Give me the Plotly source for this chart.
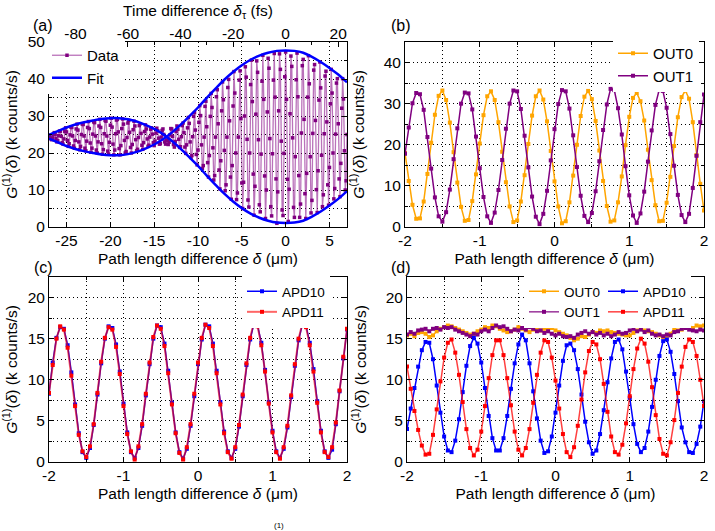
import plotly.graph_objects as go

W, H = 715, 531
FONT = "Liberation Sans, Arial, Helvetica, sans-serif"

# ---------------- Panel (a) data ----------------
a_delta_start = -27.0   # µm
a_delta_step = 0.1      # µm sampling step
a_data = [
    24.8, 24.4, 23.9, 23.6, 24.1, 25.0, 25.5, 25.0, 23.9, 23.0, 23.3, 24.7, 25.9,
    25.9, 24.5, 22.8, 22.4, 23.8, 25.8, 26.8, 25.7, 23.4, 21.8, 22.5, 24.9, 27.0,
    26.9, 24.6, 21.9, 21.3, 23.4, 26.5, 27.8, 26.2, 23.0, 20.9, 21.8, 25.0, 27.8,
    27.7, 24.6, 21.3, 20.6, 23.2, 26.9, 28.5, 26.6, 22.7, 20.2, 21.3, 25.1, 28.4,
    28.2, 24.6, 20.8, 20.0, 23.0, 27.3, 29.1, 26.9, 22.5, 19.7, 20.9, 25.2, 28.8,
    28.6, 24.6, 20.5, 19.7, 22.9, 27.5, 29.4, 27.0, 22.4, 19.5, 20.8, 25.2, 28.9,
    29.1, 25.7, 21.2, 19.5, 22.0, 26.6, 29.2, 27.8, 23.4, 20.0, 20.4, 24.2, 28.1,
    28.8, 25.6, 21.5, 20.0, 22.3, 26.3, 28.6, 27.3, 23.6, 20.6, 21.0, 24.2, 27.4,
    27.9, 25.3, 22.1, 21.0, 22.8, 25.8, 27.6, 26.5, 23.8, 21.8, 22.1, 24.3, 26.4,
    26.8, 25.1, 22.8, 22.0, 23.2, 25.4, 26.7, 26.0, 24.0, 22.4, 22.5, 24.3, 26.1,
    26.5, 25.0, 23.0, 22.4, 23.5, 23.5, 22.3, 22.9, 24.9, 26.6, 26.5, 24.5, 22.3,
    21.6, 23.1, 25.8, 27.3, 26.4, 23.7, 21.5, 21.7, 24.4, 27.4, 28.1, 25.5, 21.6,
    19.9, 22.2, 26.8, 29.6, 28.0, 23.0, 18.8, 19.3, 24.4, 29.9, 30.9, 26.2, 19.6,
    16.8, 20.8, 28.3, 32.8, 30.1, 22.2, 15.8, 16.6, 24.3, 32.6, 34.0, 27.1, 17.4,
    13.5, 19.3, 29.9, 36.1, 32.3, 21.4, 12.7, 13.9, 24.3, 35.2, 37.1, 27.9, 15.4,
    10.3, 17.9, 31.4, 39.2, 34.4, 20.7, 9.8, 11.4, 24.3, 37.7, 39.9, 28.7, 13.5,
    7.5, 16.6, 32.7, 42.0, 36.2, 20.0, 7.4, 9.2, 24.3, 39.7, 42.2, 29.3, 11.9,
    5.0, 12.1, 30.0, 43.3, 40.5, 23.7, 7.3, 5.4, 20.0, 38.5, 45.1, 33.9, 14.3,
    3.2, 11.0, 30.5, 44.9, 41.8, 23.6, 6.0, 4.1, 19.7, 39.4, 46.4, 34.5, 13.8,
    2.3, 10.0, 31.1, 45.6, 42.9, 23.9, 5.5, 3.0, 19.8, 39.7, 46.9, 35.1, 13.0,
    1.0, 9.5, 31.4, 46.8, 42.6, 23.2, 4.6, 3.1, 19.9, 40.6, 47.3, 34.5, 12.9,
    1.5, 10.2, 30.6, 46.2, 43.4, 24.1, 5.3, 2.6, 19.0, 39.8, 47.0, 35.2, 13.9,
    2.6, 6.2, 25.4, 43.6, 45.3, 29.1, 9.0, 2.3, 14.5, 35.1, 46.3, 38.7, 19.0,
    3.8, 7.2, 25.3, 42.4, 43.9, 28.8, 10.1, 3.9, 15.2, 34.3, 44.6, 37.6, 19.4,
    5.5, 8.7, 25.2, 40.8, 42.1, 28.4, 11.4, 5.9, 16.1, 33.3, 42.6, 36.2, 20.0,
    7.6, 10.4, 25.1, 38.9, 40.1, 27.9, 13.0, 8.2, 17.2, 32.1, 40.1, 34.6, 20.6,
    10.0, 12.5, 25.0,
]
a_delta = [round(a_delta_start + a_delta_step * i, 2) for i in range(len(a_data))]

a_fit_delta = [-27, -26, -25, -24, -23, -22, -21, -20, -19, -18, -17, -16, -15, -14,
               -13, -12, -11, -10, -9, -8, -7, -6, -5, -4, -3, -2, -1, 0, 1, 2, 3, 4, 5, 6, 7]
a_fit_branch1 = [24.9, 25.9, 26.9, 27.7, 28.3, 28.8, 29.2, 29.4, 29.4, 29.1, 28.5, 27.6, 26.5, 25.1,
                 23.3, 21.2, 18.9, 16.5, 13.9, 11.4, 9.0, 6.9, 5.1, 3.6, 2.5, 1.7, 1.2, 1.1, 1.2,
                 1.7, 2.8, 4.2, 5.8, 7.6, 9.7]
a_fit_branch2 = [23.9, 22.9, 21.9, 21.1, 20.5, 20.0, 19.6, 19.4, 19.4, 19.7, 20.3, 21.2, 22.3, 23.7,
                 25.5, 27.6, 29.9, 32.3, 34.9, 37.4, 39.8, 41.9, 43.7, 45.2, 46.3, 47.1, 47.6, 47.7,
                 47.6, 47.1, 46.0, 44.6, 43.0, 41.2, 39.1]

a_xticks = [-25, -20, -15, -10, -5, 0, 5]
a_xticklabels = ["-25", "-20", "-15", "-10", "-5", "0", "5"]
a_yticks = [0, 10, 20, 30, 40, 50]
a_yticklabels = ["0", "10", "20", "30", "40", "50"]
a_time_ticks = [-80, -60, -40, -20, 0, 20]
a_time_ticklabels = ["-80", "-60", "-40", "-20", "0", "20"]
c_light_um_per_fs = 0.29979

# ---------------- Panels (b)-(d) data ----------------
bcd_delta = [round(-2 + 0.05 * i, 2) for i in range(81)]

b_out0 = [18.0, 11.2, 5.4, 2.0, 2.1, 6.2, 12.9, 20.5, 27.3, 31.9,
          33.2, 30.9, 25.4, 18.2, 10.8, 4.9, 1.5, 1.7, 6.3, 12.8,
          20.3, 27.2, 31.8, 33.0, 30.9, 25.5, 18.3, 10.9, 5.0, 1.2,
          1.6, 6.2, 12.6, 20.2, 27.1, 31.8, 33.2, 31.0, 25.7, 18.5,
          11.1, 5.0, 0.9, 1.4, 6.0, 12.5, 20.0, 27.0, 31.7, 33.1,
          31.1, 25.8, 18.6, 11.2, 5.1, 1.3, 1.6, 6.0, 12.3, 19.9,
          26.8, 31.4, 32.6, 30.6, 25.9, 18.8, 11.4, 5.3, 1.4, 1.5,
          5.9, 12.2, 19.7, 26.7, 31.6, 33.2, 31.2, 25.5, 17.5, 10.5,
          4.0]
b_out1 = [17.8, 24.2, 30.1, 32.6, 32.3, 28.5, 21.9, 14.2, 7.2, 2.6,
          1.3, 3.6, 9.1, 16.5, 24.0, 30.0, 32.7, 32.5, 28.6, 22.0,
          14.3, 7.3, 2.6, 1.0, 3.5, 9.0, 16.3, 23.9, 30.0, 33.2,
          33.0, 28.7, 22.2, 14.5, 7.4, 2.5, 0.7, 3.2, 8.8, 16.2,
          23.8, 29.9, 33.3, 33.0, 28.8, 22.3, 14.6, 7.6, 2.7, 1.2,
          3.4, 8.7, 16.0, 23.6, 29.8, 33.6, 33.3, 28.9, 22.5, 14.8,
          7.7, 2.8, 1.0, 3.3, 8.6, 15.9, 23.5, 29.7, 33.3, 33.1,
          29.0, 22.6, 14.9, 7.8, 2.9, 1.2, 3.2, 9.5, 17.3, 25.5,
          32.2]

c_apd10 = [8.3, 12.1, 15.1, 16.4, 16.2, 14.2, 10.9, 7.0, 3.5, 1.2,
           0.5, 1.7, 4.5, 8.2, 12.0, 15.0, 16.5, 16.3, 14.3, 11.0,
           7.1, 3.6, 1.2, 0.5, 1.7, 4.4, 8.1, 11.9, 15.0, 16.6,
           16.4, 14.4, 11.1, 7.2, 3.6, 1.2, 0.4, 1.6, 4.4, 8.0,
           11.9, 14.9, 16.7, 16.5, 14.4, 11.1, 7.3, 3.7, 1.3, 0.5,
           1.6, 4.3, 8.0, 11.8, 14.9, 16.8, 16.6, 14.5, 11.2, 7.3,
           3.8, 1.3, 0.5, 1.6, 4.2, 7.9, 11.7, 14.8, 16.7, 16.6,
           14.5, 11.3, 7.4, 3.8, 1.3, 0.5, 1.5, 4.6, 8.6, 12.6,
           16.1]
c_apd11 = [8.4, 11.8, 15.0, 16.5, 16.1, 13.9, 10.5, 6.8, 3.3, 1.3,
           0.6, 1.9, 4.6, 8.4, 12.2, 15.1, 16.4, 16.1, 14.0, 10.7,
           6.8, 3.4, 1.3, 0.3, 1.9, 4.6, 8.3, 12.1, 15.2, 16.6,
           16.2, 14.1, 10.8, 7.0, 3.5, 1.1, 0.3, 1.8, 4.6, 8.3,
           12.1, 15.1, 16.7, 16.3, 14.1, 10.8, 7.0, 3.5, 1.2, 0.4,
           1.8, 4.5, 8.2, 12.0, 15.1, 17.0, 16.5, 14.2, 11.0, 7.1,
           3.6, 1.2, 0.4, 1.8, 4.4, 8.1, 11.9, 15.0, 16.8, 16.4,
           14.2, 11.0, 7.2, 3.6, 1.2, 0.6, 1.8, 4.8, 8.7, 12.8,
           16.2]

d_out0 = [15.4, 15.6, 15.3, 15.7, 15.8, 15.6, 15.2, 15.4, 15.9, 16.2,
          16.4, 16.6, 16.5, 16.3, 16.1, 15.9, 15.7, 15.5, 15.6, 15.9,
          16.1, 16.4, 16.3, 16.6, 16.5, 16.2, 16.0, 15.8, 15.9, 16.1,
          16.4, 16.2, 16.0, 15.8, 16.1, 16.3, 16.0, 16.2, 16.1, 16.3,
          16.0, 15.8, 15.6, 15.4, 15.1, 14.8, 15.0, 15.3, 15.2, 15.5,
          15.8, 15.7, 16.0, 15.9, 16.0, 15.8, 15.7, 15.6, 15.5, 15.4,
          15.4, 15.7, 16.0, 16.2, 16.0, 15.9, 15.8, 15.6, 15.4, 15.2,
          15.3, 15.6, 16.2, 16.0, 16.1, 16.3, 16.4, 16.3, 16.6, 16.5,
          16.6]
d_out1 = [15.5, 15.8, 15.6, 16.0, 16.1, 16.2, 15.9, 16.2, 16.3, 16.1,
          16.4, 16.3, 16.4, 16.1, 15.9, 15.7, 15.5, 15.3, 15.6, 15.5,
          15.9, 16.1, 15.9, 16.3, 16.6, 16.4, 16.5, 16.2, 15.9, 16.1,
          16.0, 16.3, 16.1, 16.4, 16.2, 15.9, 16.0, 15.7, 15.9, 15.6,
          15.4, 15.6, 15.3, 15.2, 15.3, 15.1, 15.5, 15.7, 15.9, 15.6,
          15.8, 15.5, 15.7, 15.4, 15.6, 15.3, 15.5, 15.8, 15.6, 15.7,
          16.0, 16.2, 15.9, 16.1, 15.8, 16.0, 15.6, 15.4, 15.5, 15.3,
          15.5, 15.4, 15.8, 15.9, 16.2, 16.3, 16.1, 16.0, 15.9, 16.1,
          16.0]
d_apd10 = [4.0, 6.5, 9.0, 11.6, 13.6, 14.6, 14.5, 12.5, 9.3, 6.0,
           3.1, 1.4, 1.2, 2.6, 5.2, 8.5, 11.7, 14.1, 15.1, 14.4,
           12.1, 9.0, 5.6, 2.9, 1.4, 1.4, 2.9, 5.6, 8.9, 12.0,
           14.3, 15.5, 14.8, 12.0, 8.6, 5.3, 2.6, 1.1, 1.3, 3.1,
           6.0, 9.3, 12.3, 14.2, 14.4, 13.6, 11.3, 8.2, 4.9, 2.4,
           1.0, 1.4, 3.4, 6.3, 9.7, 12.6, 14.6, 14.9, 13.7, 11.0,
           7.8, 4.6, 2.2, 1.2, 1.7, 3.7, 6.7, 10.0, 12.9, 14.7,
           14.9, 13.4, 10.7, 7.4, 4.2, 2.4, 1.2, 1.1, 2.2, 4.3,
           7.4]
d_apd11 = [11.6, 8.9, 6.2, 3.9, 2.0, 0.9, 1.0, 3.3, 6.4, 9.8,
           12.7, 14.5, 14.9, 13.3, 10.6, 7.3, 4.0, 1.7, 0.8, 1.5,
           3.7, 6.8, 10.2, 13.0, 14.8, 14.8, 13.0, 10.2, 6.9, 3.7,
           1.5, 0.8, 1.7, 4.0, 7.2, 10.6, 13.3, 14.8, 14.6, 12.7,
           9.9, 6.5, 3.4, 1.2, 0.6, 1.8, 4.4, 7.6, 10.9, 13.5,
           14.6, 14.3, 12.5, 9.5, 6.1, 3.1, 1.2, 0.9, 2.1, 4.7,
           8.0, 11.3, 13.8, 15.0, 14.4, 12.2, 9.1, 5.7, 2.8, 1.0,
           0.8, 2.4, 5.1, 8.4, 11.6, 14.0, 14.9, 14.6, 12.9, 10.0,
           6.8]

bcd_xticks = [-2, -1, 0, 1, 2]
bcd_xticklabels = ["-2", "-1", "0", "1", "2"]
b_yticks = [0, 10, 20, 30, 40]
b_yticklabels = ["0", "10", "20", "30", "40"]
cd_yticks = [0, 5, 10, 15, 20]
cd_yticklabels = ["0", "5", "10", "15", "20"]

# ---------------- colours ----------------
PURPLE = "#800080"
PURPLE_LINE = "rgba(140,20,140,0.6)"
ORANGE = "#FFA500"
BLUE = "#0000FF"
RED = "#FF0000"

# ---------------- figure ----------------
fig = go.Figure()


def series(x, y, name, color, line_color, xa, ya, legend, size=4, width=1.5, showlegend=True):
    return go.Scatter(
        x=x, y=y, name=name, mode="lines+markers",
        line=dict(color=line_color, width=width),
        marker=dict(symbol="square", size=size, color=color, line=dict(width=0)),
        xaxis=xa, yaxis=ya, legend=legend, showlegend=showlegend,
    )


# (a)
fig.add_trace(series(a_delta, a_data, "Data", PURPLE, PURPLE_LINE, "x", "y", "legend", size=3.5, width=1.3))
fig.add_trace(go.Scatter(x=a_fit_delta, y=a_fit_branch1, name="Fit", mode="lines",
                         line=dict(color=BLUE, width=2.5, shape="spline"),
                         xaxis="x", yaxis="y", legend="legend", legendgroup="fit"))
fig.add_trace(go.Scatter(x=a_fit_delta, y=a_fit_branch2, name="Fit", mode="lines",
                         line=dict(color=BLUE, width=2.5, shape="spline"),
                         xaxis="x", yaxis="y", legend="legend", legendgroup="fit", showlegend=False))
# invisible companion trace so the top time axis (same data, time units) is drawn
fig.add_trace(go.Scatter(x=[d / c_light_um_per_fs for d in a_fit_delta], y=a_fit_branch1,
                         mode="lines", line=dict(width=0, color="rgba(0,0,0,0)"), opacity=0,
                         hoverinfo="skip", showlegend=False, xaxis="x5", yaxis="y"))
# (b)
fig.add_trace(series(bcd_delta, b_out0, "OUT0", ORANGE, ORANGE, "x2", "y2", "legend2"))
fig.add_trace(series(bcd_delta, b_out1, "OUT1", PURPLE, PURPLE, "x2", "y2", "legend2"))
# (c)
fig.add_trace(series(bcd_delta, c_apd10, "APD10", BLUE, BLUE, "x3", "y3", "legend3"))
fig.add_trace(series(bcd_delta, c_apd11, "APD11", RED, "rgba(255,0,0,0.6)", "x3", "y3", "legend3", width=2))
# (d)
fig.add_trace(series(bcd_delta, d_out0, "OUT0", ORANGE, ORANGE, "x4", "y4", "legend4"))
fig.add_trace(series(bcd_delta, d_out1, "OUT1", PURPLE, "rgba(128,0,128,0.8)", "x4", "y4", "legend4"))
fig.add_trace(series(bcd_delta, d_apd10, "APD10", BLUE, BLUE, "x4", "y4", "legend5"))
fig.add_trace(series(bcd_delta, d_apd11, "APD11", RED, "rgba(255,0,0,0.75)", "x4", "y4", "legend5"))

GRIDDASH = "1px,3px"
TICKFONT = dict(family=FONT, size=15.5, color="black")
TITLEFONT = dict(family=FONT, size=15.5, color="black")


def axis(rng, domain, anchor, tickvals, ticktext, minor_dtick=None, minor_grid=True,
         mirror="ticks", title=None, showgrid=True, standoff=None, **kw):
    d = dict(range=rng, domain=domain, anchor=anchor,
             tickmode="array", tickvals=tickvals, ticktext=ticktext,
             ticks="inside", ticklen=5, tickwidth=1, tickcolor="black",
             showline=True, linecolor="black", linewidth=1, mirror=mirror,
             zeroline=False, automargin=False, tickfont=TICKFONT,
             showgrid=showgrid, gridcolor="black", gridwidth=1, griddash=GRIDDASH)
    if minor_dtick is not None:
        d["minor"] = dict(tickmode="linear", tick0=0, dtick=minor_dtick, ticks="inside", ticklen=3,
                          tickcolor="black", tickwidth=1, showgrid=minor_grid,
                          gridcolor="black", gridwidth=1, griddash=GRIDDASH)
    if title is not None:
        t = dict(text=title, font=TITLEFONT)
        if standoff is not None:
            t["standoff"] = standoff
        d["title"] = t
    d.update(kw)
    return d


def px2x(p):
    return p / W


def px2y(p):
    return 1 - p / H


dom_a_x = [px2x(49), px2x(347)]
dom_b_x = [px2x(405), px2x(704)]
dom_c_x = [px2x(49), px2x(347)]
dom_d_x = [px2x(407), px2x(704)]
dom_top_y = [px2y(227), px2y(42)]
dom_bot_y = [px2y(462), px2y(277)]

XTITLE = "Path length difference <i>δ</i> (μm)"
YTITLE = "<i>G</i><sup>(1)</sup>(<i>δ</i>) (k counts/s)"
XSO = 5
XLSO = -1

fig.update_layout(
    xaxis=axis([-27, 7], dom_a_x, "y", a_xticks, a_xticklabels, mirror=True, title=XTITLE,
               standoff=XSO, ticklabelstandoff=XLSO),
    yaxis=axis([0, 50], dom_top_y, "x", a_yticks, a_yticklabels, minor_dtick=5, title=YTITLE),
    xaxis5=axis([-27 / c_light_um_per_fs, 7 / c_light_um_per_fs], dom_a_x, "y", a_time_ticks,
                a_time_ticklabels, minor_dtick=10, minor_grid=False, mirror=False, showgrid=False,
                title="Time difference <i>δ</i><sub>τ</sub> (fs)", standoff=4, ticklabelstandoff=-4,
                overlaying="x", side="top"),
    xaxis2=axis([-2, 2], dom_b_x, "y2", bcd_xticks, bcd_xticklabels, minor_dtick=0.5, title=XTITLE,
                standoff=XSO, ticklabelstandoff=XLSO),
    yaxis2=axis([0, 45], dom_top_y, "x2", b_yticks, b_yticklabels, minor_dtick=5, title=YTITLE),
    xaxis3=axis([-2, 2], dom_c_x, "y3", bcd_xticks, bcd_xticklabels, minor_dtick=0.5, title=XTITLE,
                standoff=XSO, ticklabelstandoff=XLSO),
    yaxis3=axis([0, 22.5], dom_bot_y, "x3", cd_yticks, cd_yticklabels, minor_dtick=2.5, title=YTITLE),
    xaxis4=axis([-2, 2], dom_d_x, "y4", bcd_xticks, bcd_xticklabels, minor_dtick=0.5, title=XTITLE,
                standoff=XSO, ticklabelstandoff=XLSO),
    yaxis4=axis([0, 22.5], dom_bot_y, "x4", cd_yticks, cd_yticklabels, minor_dtick=2.5, title=YTITLE),
)

LEG = dict(xanchor="left", yanchor="top", bgcolor="white", borderwidth=0,
           itemwidth=30, tracegroupgap=0)
fig.update_layout(
    legend=dict(x=px2x(47), y=px2y(39), font=dict(family=FONT, size=15, color="black"), **LEG),
    legend2=dict(x=px2x(613), y=px2y(37), font=dict(family=FONT, size=15, color="black"), **LEG),
    legend3=dict(x=px2x(242), y=px2y(276), font=dict(family=FONT, size=13.5, color="black"), **LEG),
    legend4=dict(x=px2x(524), y=px2y(276), font=dict(family=FONT, size=13.5, color="black"), **LEG),
    legend5=dict(x=px2x(603), y=px2y(276), font=dict(family=FONT, size=13.5, color="black"), **LEG),
)

panel_labels = ["(a)", "(b)", "(c)", "(d)"]
panel_label_px = [(43, 25), (401, 25), (43, 267), (401, 267)]
annotations = []
for lab, (px, py) in zip(panel_labels, panel_label_px):
    annotations.append(dict(text=lab, x=px2x(px), y=px2y(py), xref="paper", yref="paper",
                            showarrow=False, font=dict(family=FONT, size=16, color="black"),
                            xanchor="center", yanchor="middle"))
annotations.append(dict(text="(1)", x=px2x(279), y=px2y(525), xref="paper", yref="paper",
                        showarrow=False, font=dict(family=FONT, size=8, color="black"),
                        xanchor="center", yanchor="middle"))

fig.update_layout(
    template="none",
    width=W, height=H,
    margin=dict(l=0, r=0, t=0, b=0),
    paper_bgcolor="white", plot_bgcolor="white",
    font=dict(family=FONT, color="black"),
    showlegend=True,
    annotations=annotations,
)

fig.write_html("out.html", config={"displayModeBar": False})
